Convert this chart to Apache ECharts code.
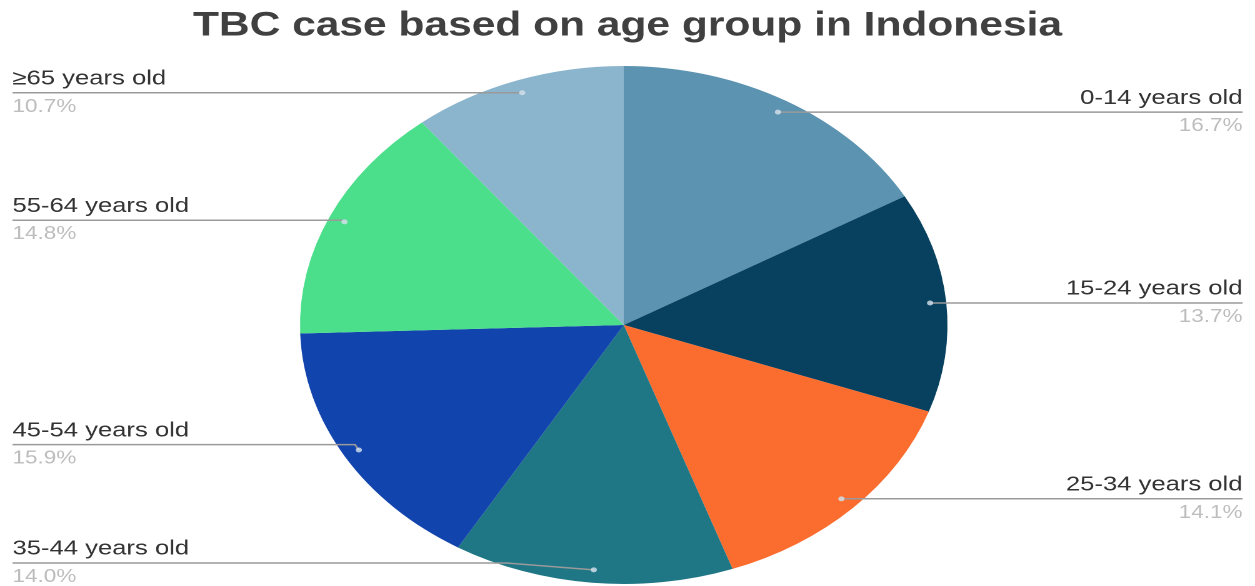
<!DOCTYPE html>
<html>
<head>
<meta charset="utf-8">
<script src="https://cdn.jsdelivr.net/npm/echarts@6/dist/echarts.min.js"></script>
<style>
html,body{margin:0;padding:0;background:#fff;overflow:hidden;}
#main{width:1004px;height:586px;transform:scaleX(1.25);transform-origin:0 0;}
</style>
</head>
<body>
<div id="main"></div>
<script>
var categories = ['0-14 years old','15-24 years old','25-34 years old','35-44 years old','45-54 years old','55-64 years old','≥65 years old'];
var values = [16.7, 13.7, 14.1, 14.0, 15.9, 14.8, 10.7];
var colors = ['#5b93b1','#08415f','#fa6d2e','#1f7785','#1244ad','#4cdf8b','#8bb5cc'];

var chart = echarts.init(document.getElementById('main'), null, {renderer:'canvas', devicePixelRatio:2});
var W = 1004;
var total = values.reduce(function(a,b){return a+b;},0);
var data = categories.map(function(c,i){ return {name:c, value:values[i], itemStyle:{color:colors[i]}}; });
var labelData = categories.map(function(c,i){ return {name:c, value:values[i]}; });
// label anchor dots: middle of each slice at 95% of the radius (polar coords)
var cum = 0;
var dots = values.map(function(v){ var mid = cum + v/2; cum += v; return [0.95, mid]; });
var font = 'Liberation Sans, Arial, sans-serif';

chart.setOption({
  animation:false,
  title:{
    text:'TBC case based on age group in Indonesia',
    left:'center', top:4,
    textStyle:{fontFamily:font, fontSize:34, fontWeight:'bold', color:'#404040'}
  },
  polar:{center:[499,325], radius:259},
  angleAxis:{type:'value', min:0, max:total, startAngle:90, clockwise:true, show:false},
  radiusAxis:{type:'value', min:0, max:1, show:false},
  series:[
    {
      type:'pie', center:[499,325], radius:259, startAngle:90, clockwise:true,
      silent:true, label:{show:false}, labelLine:{show:false}, z:1,
      itemStyle:{borderWidth:0},
      data:data
    },
    {
      type:'pie', center:[499,325], radius:246, startAngle:90, clockwise:true,
      silent:true, z:5,
      itemStyle:{color:'rgba(0,0,0,0)', borderWidth:0},
      label:{
        show:true, alignTo:'edge', edgeDistance:10, minMargin:0,
        formatter:function(p){ return '{name|' + p.name + '}\n{pct|' + p.value.toFixed(1) + '%}'; },
        rich:{
          name:{fontFamily:font, fontSize:20.5, color:'#333333', lineHeight:28},
          pct:{fontFamily:font, fontSize:18, color:'#bdbdbd', lineHeight:28}
        }
      },
      labelLine:{show:true, length:0, length2:10, smooth:false, lineStyle:{color:'#9a9a9a', width:1.5}},
      labelLayout:function(params){
        var isLeft = params.labelRect.x < W/2;
        var pts = params.labelLinePoints;
        if (!pts) return {};
        pts[2][0] = isLeft ? params.labelRect.x : params.labelRect.x + params.labelRect.width;
        return {labelLinePoints:pts};
      },
      data:labelData
    },
    {
      type:'scatter', coordinateSystem:'polar', silent:true, z:6,
      symbolSize:5, itemStyle:{color:'#d6e2ee'},
      data:dots
    }
  ]
});
</script>
</body>
</html>
